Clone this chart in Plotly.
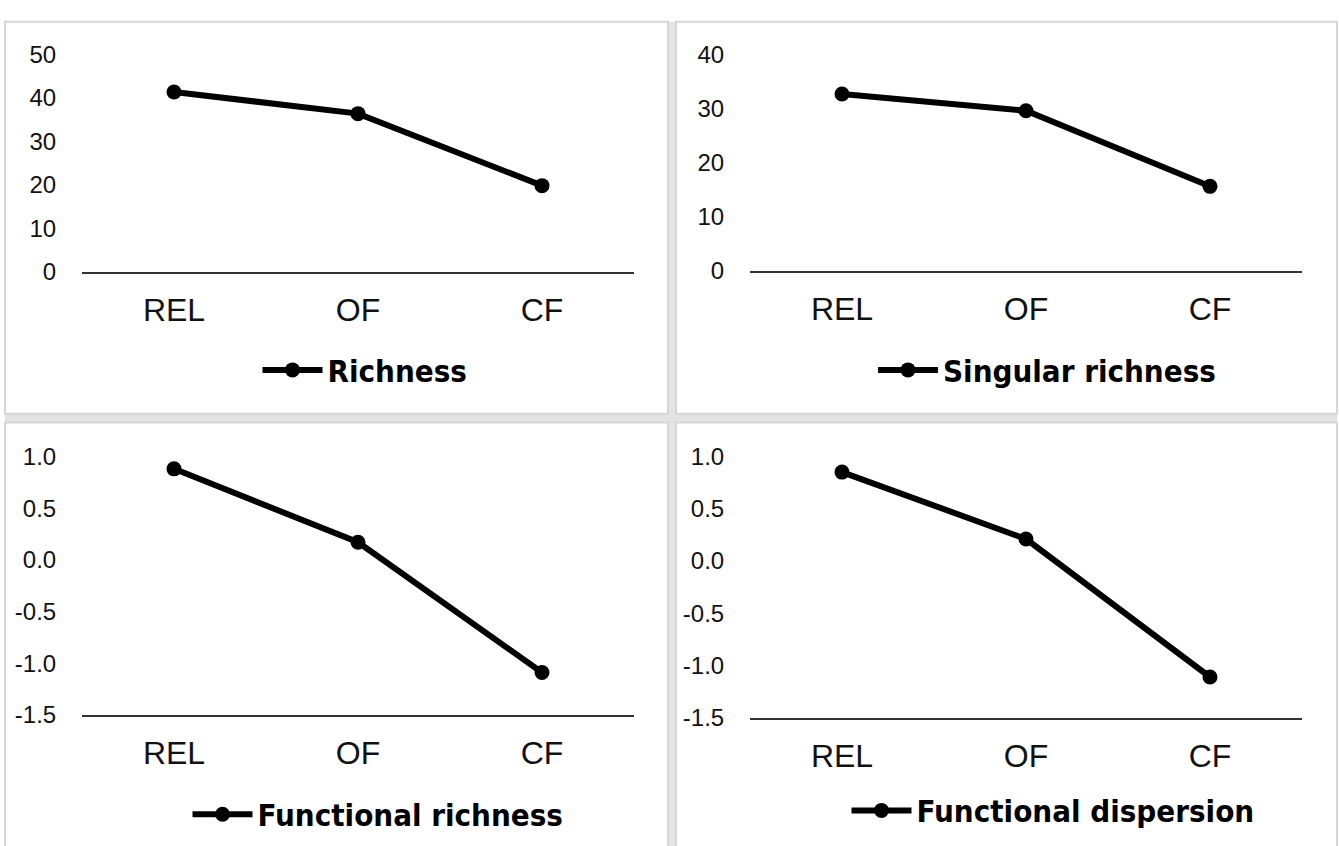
import plotly.graph_objects as go

W, H = 1339, 846

categories = ["REL", "OF", "CF"]
richness = [41.4, 36.4, 19.8]
singular_richness = [32.7, 29.6, 15.6]
functional_richness = [0.88, 0.17, -1.09]
functional_dispersion = [0.85, 0.21, -1.11]

names = ["Richness", "Singular richness", "Functional richness", "Functional dispersion"]
series = [richness, singular_richness, functional_richness, functional_dispersion]

ticks_top_left = [0, 10, 20, 30, 40, 50]
ticks_top_right = [0, 10, 20, 30, 40]
ticks_bottom = [-1.5, -1.0, -0.5, 0.0, 0.5, 1.0]
ticktext_bottom = ["-1.5", "-1.0", "-0.5", "0.0", "0.5", "1.0"]

def px_x(p):
    return p / W

def px_y(p):
    return 1 - p / H

# panel geometry in pixels: (x_axis_left, x_axis_right, y_axis_bottom, y_axis_top)
panels = [
    (82, 634, 266, 42),
    (750, 1302, 265, 42),
    (82, 634, 724, 457),
    (750, 1302, 727, 457),
]
yranges = [[0, 50], [0, 40], [-1.5, 1.0], [-1.5, 1.0]]
ytickvals = [ticks_top_left, ticks_top_right, ticks_bottom, ticks_bottom]
yticktexts = [[str(v) for v in ticks_top_left], [str(v) for v in ticks_top_right],
              ticktext_bottom, ticktext_bottom]
legend_pos = [(365, 368), (1047, 368), (378, 827), (1053, 823)]

fig = go.Figure()

tick_font = dict(family="Liberation Sans, Arial, sans-serif", size=24, color="#111111")
xtick_font = dict(family="Liberation Sans, Arial, sans-serif", size=32, color="#111111")
legend_font = dict(family="DejaVu Sans Condensed, sans-serif", size=31, color="#000000")

layout_kw = {}
for i, (name, vals) in enumerate(zip(names, series)):
    sfx = "" if i == 0 else str(i + 1)
    lg = "legend" if i == 0 else f"legend{i + 1}"
    fig.add_trace(go.Scatter(
        x=categories, y=vals, name=name, mode="lines+markers",
        line=dict(color="black", width=6),
        marker=dict(color="black", size=15, symbol="circle"),
        xaxis="x" + sfx, yaxis="y" + sfx, legend=lg, cliponaxis=False,
        showlegend=True,
    ))
    xl, xr, yb, yt = panels[i]
    layout_kw["xaxis" + sfx] = dict(
        domain=[px_x(xl), px_x(xr)], anchor="y" + sfx,
        type="category", range=[-0.5, 2.5],
        showline=True, linecolor="#333333", linewidth=2,
        showgrid=False, zeroline=False,
        ticks="outside", ticklen=9, tickcolor="rgba(0,0,0,0)",
        tickfont=xtick_font, fixedrange=True,
    )
    layout_kw["yaxis" + sfx] = dict(
        domain=[px_y(yb), px_y(yt)], anchor="x" + sfx,
        range=yranges[i], tickvals=ytickvals[i], ticktext=yticktexts[i],
        showline=False, showgrid=False, zeroline=False,
        ticks="outside", ticklen=20, tickcolor="rgba(0,0,0,0)",
        tickfont=tick_font, fixedrange=True,
    )
    lx, ly = legend_pos[i]
    layout_kw[lg] = dict(
        x=px_x(lx), y=px_y(ly), xanchor="center", yanchor="middle",
        font=dict(legend_font, weight="bold"), bgcolor="rgba(0,0,0,0)",
        itemwidth=60,
    )

# panel frames
shapes = []
band = "#e3e3e3"
shapes.append(dict(type="rect", xref="paper", yref="paper",
                   x0=px_x(667), x1=px_x(677), y0=px_y(870), y1=px_y(8),
                   fillcolor=band, line=dict(width=0), layer="below"))
shapes.append(dict(type="rect", xref="paper", yref="paper",
                   x0=px_x(5), x1=px_x(1337), y0=px_y(422), y1=px_y(412),
                   fillcolor=band, line=dict(width=0), layer="below"))
frames = [(5, 8, 668, 413), (676, 8, 1337, 413), (5, 422, 668, 870), (676, 422, 1337, 870)]
for (a, b, c, d) in frames:
    shapes.append(dict(type="rect", xref="paper", yref="paper",
                       x0=px_x(a), x1=px_x(c), y0=px_y(d), y1=px_y(b),
                       line=dict(color="#d6d6d6", width=2), fillcolor="white", layer="below"))

fig.update_layout(
    width=W, height=H, margin=dict(l=0, r=0, t=0, b=0),
    paper_bgcolor="white", plot_bgcolor="rgba(0,0,0,0)",
    shapes=shapes, **layout_kw,
)

fig.write_html(
    "out.html",
    config={"displayModeBar": False},
    post_script="document.body.style.margin='0';document.body.style.overflow='hidden';",
)
